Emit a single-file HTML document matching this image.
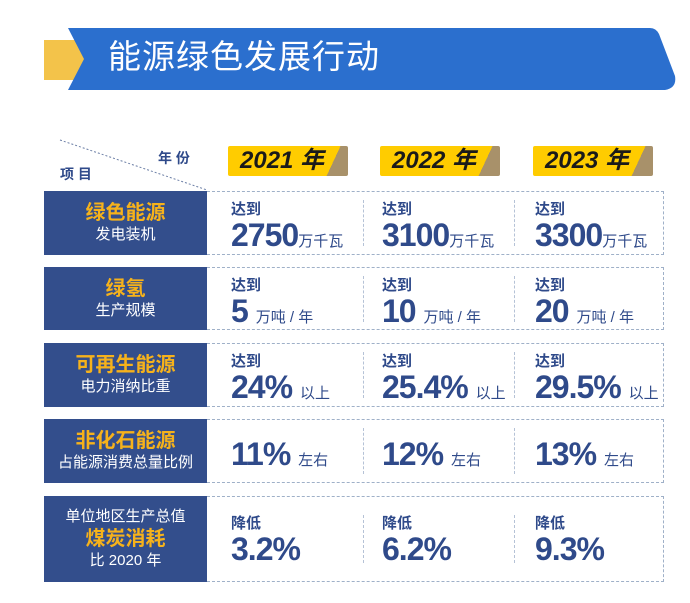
<!DOCTYPE html>
<html><head><meta charset="utf-8"><style>
body{margin:0;width:690px;height:603px;background:#fff;position:relative;overflow:hidden;font-family:"Liberation Sans","Noto Sans CJK SC",sans-serif}
.a{position:absolute}
.lb{position:absolute;left:44px;width:163px;background:#334e8c;color:#fff;text-align:center;display:flex;flex-direction:column;justify-content:center;font-size:15px;line-height:20px}
.lb b{color:#f6b21b;font-size:20px;line-height:24px}
.rb{position:absolute;left:207px;width:457px;border:1px dashed #9fb0c8;border-left:none;box-sizing:border-box}
.sep{position:absolute;width:0;border-left:1px dashed #b5c2d6}
.c{position:absolute;color:#2f4a8a}
.s{font-size:15px;font-weight:bold;line-height:16px}
.n{font-size:32px;font-weight:bold;letter-spacing:-1px;line-height:34px}
.u{font-size:15px;font-weight:normal;letter-spacing:0}
.pill{position:absolute;top:146px;height:30px;width:120px;background:linear-gradient(115deg,#ffcc00 84%,#a8916a 84%);border-radius:2px;font-size:24px;font-weight:bold;font-style:italic;color:#1a1a1a;line-height:30px;padding-left:12px;box-sizing:border-box}
</style></head><body>
<div class="a" style="left:44px;top:40px;width:40px;height:40px;background:#f3c34a"></div>
<svg class="a" style="left:60px;top:26px" width="620" height="70"><path d="M8 2 H590 Q596 2 599 8 L615 50 Q617 62 605 64 H8 L24 33 Z" fill="#2b6fce"/></svg>
<div class="a" style="left:108px;top:38px;color:#fff;font-size:33px;line-height:38px;letter-spacing:1px">能源绿色发展行动</div>
<svg class="a" style="left:0;top:0" width="690" height="200"><line x1="60" y1="140" x2="207" y2="190" stroke="#6c7fa6" stroke-dasharray="2,2"/></svg>
<div class="a" style="left:158px;top:148px;font-size:14px;font-weight:bold;color:#2f4a8a">年 份</div>
<div class="a" style="left:60px;top:164px;font-size:14px;font-weight:bold;color:#2f4a8a">项 目</div>
<div class="pill" style="left:228px">2021 年</div>
<div class="pill" style="left:380px">2022 年</div>
<div class="pill" style="left:533px">2023 年</div>

<div class="lb" style="top:191px;height:64px"><b>绿色能源</b>发电装机</div>
<div class="rb" style="top:191px;height:64px"></div>
<div class="lb" style="top:267px;height:63px"><b>绿氢</b>生产规模</div>
<div class="rb" style="top:267px;height:63px"></div>
<div class="lb" style="top:343px;height:64px"><b>可再生能源</b>电力消纳比重</div>
<div class="rb" style="top:343px;height:64px"></div>
<div class="lb" style="top:419px;height:64px"><b>非化石能源</b>占能源消费总量比例</div>
<div class="rb" style="top:419px;height:64px"></div>
<div class="lb" style="top:496px;height:86px">单位地区生产总值<b>煤炭消耗</b>比 2020 年</div>
<div class="rb" style="top:496px;height:86px"></div>

<div class="sep" style="left:363px;top:200px;height:46px"></div><div class="sep" style="left:514px;top:200px;height:46px"></div>
<div class="sep" style="left:363px;top:276px;height:46px"></div><div class="sep" style="left:514px;top:276px;height:46px"></div>
<div class="sep" style="left:363px;top:352px;height:46px"></div><div class="sep" style="left:514px;top:352px;height:46px"></div>
<div class="sep" style="left:363px;top:428px;height:46px"></div><div class="sep" style="left:514px;top:428px;height:46px"></div>
<div class="sep" style="left:363px;top:515px;height:48px"></div><div class="sep" style="left:514px;top:515px;height:48px"></div>

<div class="c" style="left:231px;top:202px"><div class="s">达到</div><div class="n">2750<span class="u">万千瓦</span></div></div>
<div class="c" style="left:382px;top:202px"><div class="s">达到</div><div class="n">3100<span class="u">万千瓦</span></div></div>
<div class="c" style="left:535px;top:202px"><div class="s">达到</div><div class="n">3300<span class="u">万千瓦</span></div></div>

<div class="c" style="left:231px;top:278px"><div class="s">达到</div><div class="n">5 <span class="u">万吨 / 年</span></div></div>
<div class="c" style="left:382px;top:278px"><div class="s">达到</div><div class="n">10 <span class="u">万吨 / 年</span></div></div>
<div class="c" style="left:535px;top:278px"><div class="s">达到</div><div class="n">20 <span class="u">万吨 / 年</span></div></div>

<div class="c" style="left:231px;top:354px"><div class="s">达到</div><div class="n">24% <span class="u">以上</span></div></div>
<div class="c" style="left:382px;top:354px"><div class="s">达到</div><div class="n">25.4% <span class="u">以上</span></div></div>
<div class="c" style="left:535px;top:354px"><div class="s">达到</div><div class="n">29.5% <span class="u">以上</span></div></div>

<div class="c" style="left:231px;top:437px"><div class="n">11% <span class="u">左右</span></div></div>
<div class="c" style="left:382px;top:437px"><div class="n">12% <span class="u">左右</span></div></div>
<div class="c" style="left:535px;top:437px"><div class="n">13% <span class="u">左右</span></div></div>

<div class="c" style="left:231px;top:516px"><div class="s">降低</div><div class="n">3.2%</div></div>
<div class="c" style="left:382px;top:516px"><div class="s">降低</div><div class="n">6.2%</div></div>
<div class="c" style="left:535px;top:516px"><div class="s">降低</div><div class="n">9.3%</div></div>
</body></html>
